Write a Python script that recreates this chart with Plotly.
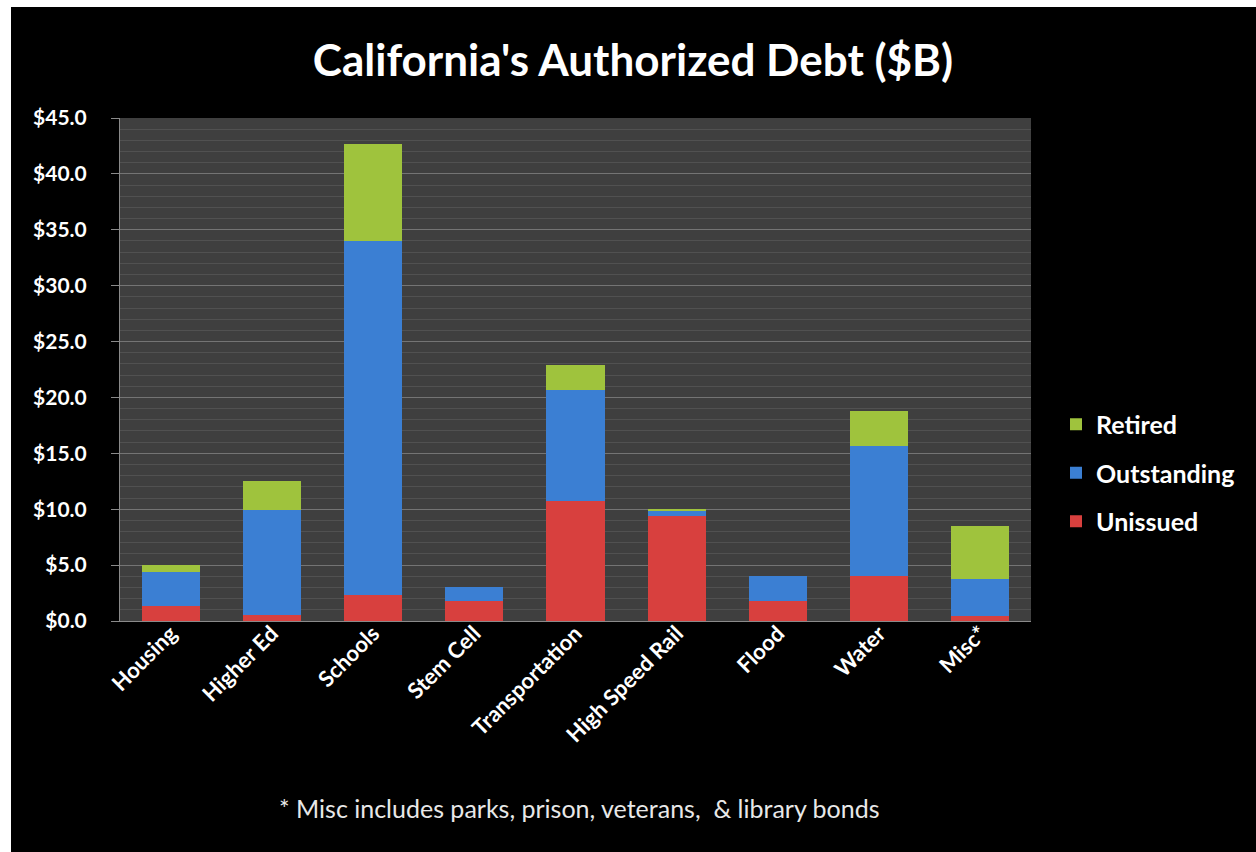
import plotly.graph_objects as go

categories = ["Housing", "Higher Ed", "Schools", "Stem Cell", "Transportation",
              "High Speed Rail", "Flood", "Water", "Misc*"]
unissued = [1.3, 0.5, 2.3, 1.8, 10.7, 9.4, 1.8, 4.0, 0.45]
outstanding = [3.1, 9.4, 31.7, 1.2, 10.0, 0.45, 2.2, 11.7, 3.35]
retired = [0.6, 2.6, 8.7, 0.0, 2.2, 0.1, 0.0, 3.1, 4.7]
tick_vals = [0, 5, 10, 15, 20, 25, 30, 35, 40, 45]
tick_text = ["$%.1f" % v for v in tick_vals]

FONT = "Lato"
fig = go.Figure()
series = [("Unissued", unissued, "#d8403e", 3),
          ("Outstanding", outstanding, "#3b7fd3", 2),
          ("Retired", retired, "#9fc33d", 1)]
for name, vals, col, rank in series:
    fig.add_trace(go.Bar(x=categories, y=vals, name=name, legendgroup=name, legendrank=rank,
                         marker=dict(color=col, line=dict(width=0))))

L, R, T, B = 120, 225, 118, 231
W, H = 1256, 852
pw, ph = W - L - R, H - T - B

fig.update_layout(
    width=W, height=H,
    margin=dict(l=L, r=R, t=T, b=B, pad=0),
    barmode="stack", bargap=0.425,
    paper_bgcolor="black", plot_bgcolor="#3f3f3f",
    title=dict(text="California's Authorized Debt ($B)", x=(633) / W, xanchor="center",
               xref="container", yref="container", y=1 - 61 / H, yanchor="middle",
               font=dict(family=FONT, size=44, color="white", weight="bold")),
    legend=dict(x=(1056 - L) / pw, xanchor="left", y=(H - B - 473) / ph, yanchor="middle",
                traceorder="grouped", tracegroupgap=13,
                font=dict(family=FONT, size=25, color="white", weight="bold"),
                bgcolor="rgba(0,0,0,0)"),
    showlegend=True,
    font=dict(family=FONT, color="white"),
    shapes=[dict(type="rect", xref="paper", yref="paper",
                 x0=(-5 - L) / pw, x1=(11 - L) / pw,
                 y0=-(B + 5) / ph, y1=(H - B + 5) / ph,
                 fillcolor="white", line=dict(width=0), layer="below"),
            dict(type="rect", xref="paper", yref="paper",
                 x0=(-5 - L) / pw, x1=(W + 5 - L) / pw,
                 y0=(H - B - 7) / ph, y1=(H - B + 5) / ph,
                 fillcolor="white", line=dict(width=0), layer="below")],
    annotations=[dict(text="* Misc includes parks, prison, veterans,  & library bonds",
                      xref="paper", yref="paper", x=(579 - L) / pw, y=(H - B - 808) / ph,
                      xanchor="center", yanchor="middle", showarrow=False,
                      font=dict(family=FONT, size=25, color="#e8e8e8"))],
)
fig.update_xaxes(tickangle=-45, tickfont=dict(family=FONT, size=22, color="white", weight="bold"),
                 showline=True, linecolor="#8a8a8a", linewidth=1, showgrid=False,
                 ticks="", ticklabelstandoff=-10)
fig.update_yaxes(range=[0, 45], tickvals=tick_vals, ticktext=tick_text,
                 tickfont=dict(family=FONT, size=21, color="white", weight="bold"),
                 showline=True, linecolor="#8a8a8a", linewidth=1,
                 showgrid=True, gridcolor="#747474", gridwidth=1,
                 ticks="outside", ticklen=8, tickcolor="#8a8a8a", ticklabelstandoff=20,
                 minor=dict(dtick=1, showgrid=True, gridcolor="#515151", gridwidth=1),
                 zeroline=False)
fig.write_html("out.html")
